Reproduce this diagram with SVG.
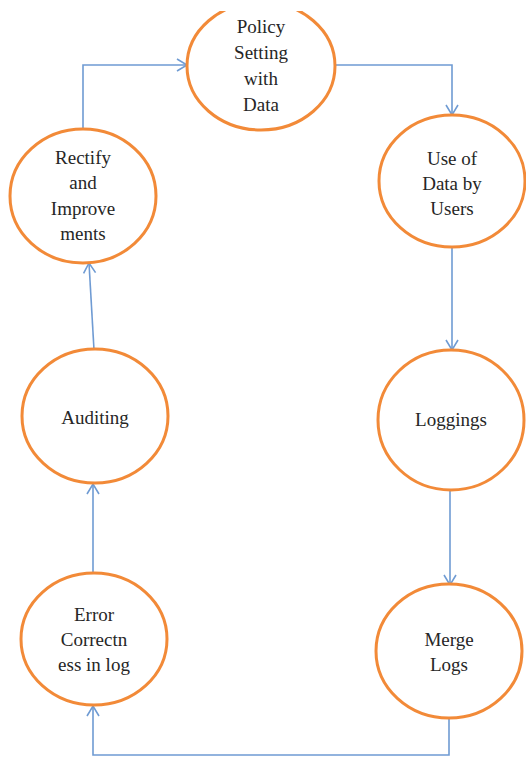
<svg xmlns="http://www.w3.org/2000/svg" width="526" height="758" viewBox="0 0 526 758">
  <style>
    .node ellipse { fill: #ffffff; stroke: #F28A38; stroke-width: 3; }
    .node text { font-family: "Liberation Serif", "Times New Roman", serif; font-size: 19px; fill: #262626; text-anchor: middle; }
    .conn path { fill: none; stroke: #6F9BD3; stroke-width: 1.6; marker-end: url(#arrow); }
  </style>
  <defs>
    <marker id="arrow" markerUnits="userSpaceOnUse" markerWidth="14" markerHeight="14" viewBox="0 0 14 14" refX="12" refY="7" orient="auto">
      <path d="M2,1 L12,7 L2,13" fill="none" stroke="#6F9BD3" stroke-width="1.6"/>
    </marker>
    <clipPath id="topclip">
      <rect x="0" y="11" width="526" height="747"/>
    </clipPath>
  </defs>
  <rect width="526" height="758" fill="#ffffff"/>

  <g id="connectors" class="conn">
    <path d="M335,65 L452,65 L452,115"/>
    <path d="M452,247 L452,350"/>
    <path d="M450,490 L450,585"/>
    <path d="M449,718 L449,755 L93,755 L93,706"/>
    <path d="M93,573 L93,484"/>
    <path d="M94,350 L89,263"/>
    <path d="M83,129 L83,65 L187,65"/>
  </g>

  <g id="policy" class="node" clip-path="url(#topclip)">
    <ellipse cx="261" cy="66" rx="74" ry="64"/>
    <text x="261" y="33">Policy</text>
    <text x="261" y="59">Setting</text>
    <text x="261" y="85">with</text>
    <text x="261" y="111">Data</text>
  </g>

  <g id="use-data" class="node">
    <ellipse cx="452" cy="181" rx="73" ry="66"/>
    <text x="452" y="165">Use of</text>
    <text x="452" y="190">Data by</text>
    <text x="452" y="215">Users</text>
  </g>

  <g id="loggings" class="node">
    <ellipse cx="451" cy="420" rx="73" ry="70"/>
    <text x="451" y="426">Loggings</text>
  </g>

  <g id="merge-logs" class="node">
    <ellipse cx="449" cy="651" rx="73" ry="67"/>
    <text x="449" y="646">Merge</text>
    <text x="449" y="671">Logs</text>
  </g>

  <g id="error-correctness" class="node">
    <ellipse cx="94" cy="639" rx="73" ry="66"/>
    <text x="94" y="621">Error</text>
    <text x="94" y="646">Correctn</text>
    <text x="94" y="671">ess in log</text>
  </g>

  <g id="auditing" class="node">
    <ellipse cx="95" cy="416" rx="73" ry="67"/>
    <text x="95" y="424">Auditing</text>
  </g>

  <g id="rectify" class="node">
    <ellipse cx="83" cy="196" rx="73" ry="67"/>
    <text x="83" y="164">Rectify</text>
    <text x="83" y="189">and</text>
    <text x="83" y="215">Improve</text>
    <text x="83" y="240">ments</text>
  </g>
</svg>
